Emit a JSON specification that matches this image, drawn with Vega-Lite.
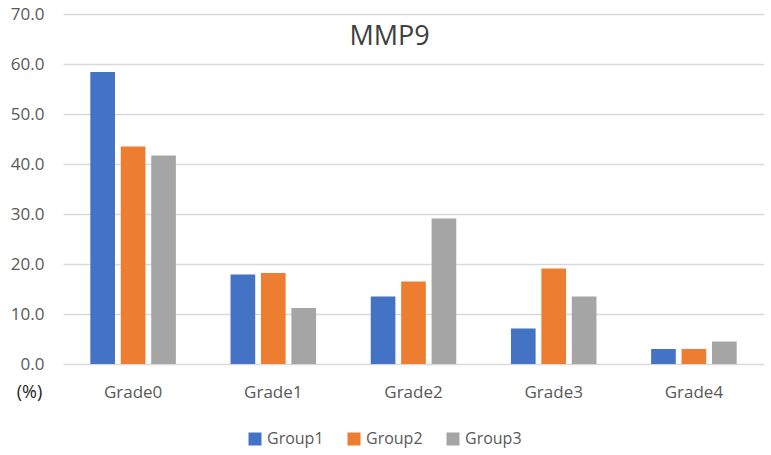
{
  "$schema": "https://vega.github.io/schema/vega-lite/v6.json",
  "width": 701,
  "height": 350,
  "autosize": {"type": "none"},
  "padding": {"left": 63, "top": 14, "right": 7, "bottom": 91},
  "background": "white",
  "title": {
    "text": "MMP9",
    "orient": "top",
    "anchor": "middle",
    "frame": "group",
    "offset": 0,
    "baseline": "middle",
    "dy": 59,
    "dx": -24,
    "fontSize": 27,
    "font": "Open Sans",
    "fontWeight": "normal",
    "color": "#404040"
  },
  "data": {
    "values": [
      {"grade": "Grade0", "group": "Group1", "value": 58.4},
      {"grade": "Grade0", "group": "Group2", "value": 43.5},
      {"grade": "Grade0", "group": "Group3", "value": 41.7},
      {"grade": "Grade1", "group": "Group1", "value": 17.9},
      {"grade": "Grade1", "group": "Group2", "value": 18.2},
      {"grade": "Grade1", "group": "Group3", "value": 11.2},
      {"grade": "Grade2", "group": "Group1", "value": 13.5},
      {"grade": "Grade2", "group": "Group2", "value": 16.5},
      {"grade": "Grade2", "group": "Group3", "value": 29.1},
      {"grade": "Grade3", "group": "Group1", "value": 7.1},
      {"grade": "Grade3", "group": "Group2", "value": 19.1},
      {"grade": "Grade3", "group": "Group3", "value": 13.5},
      {"grade": "Grade4", "group": "Group1", "value": 3.0},
      {"grade": "Grade4", "group": "Group2", "value": 3.0},
      {"grade": "Grade4", "group": "Group3", "value": 4.5}
    ]
  },
  "mark": {"type": "bar"},
  "encoding": {
    "x": {
      "field": "grade",
      "type": "nominal",
      "scale": {"paddingInner": 0.39, "paddingOuter": 0.195},
      "axis": {
        "title": null,
        "labelAngle": 0,
        "domain": false,
        "ticks": false,
        "labelPadding": 20,
        "labelFontSize": 17,
        "labelFont": "Open Sans",
        "labelColor": "#595959"
      }
    },
    "xOffset": {
      "field": "group",
      "type": "nominal",
      "scale": {"paddingInner": 0.19, "paddingOuter": 0}
    },
    "y": {
      "field": "value",
      "type": "quantitative",
      "scale": {"domain": [0, 70], "nice": false},
      "axis": {
        "values": [0, 10, 20, 30, 40, 50, 60, 70],
        "format": ".1f",
        "title": "(%)",
        "titleAngle": 0,
        "titleX": -34,
        "titleY": 378,
        "titleAlign": "center",
        "titleBaseline": "middle",
        "titleFontSize": 18,
        "titleFont": "Open Sans",
        "titleFontWeight": "normal",
        "titleColor": "#222222",
        "domain": false,
        "ticks": false,
        "labelPadding": 19,
        "labelFontSize": 17,
        "labelFont": "Open Sans",
        "labelColor": "#595959",
        "gridColor": "#D9D9D9",
        "gridWidth": 1.5
      }
    },
    "color": {
      "field": "group",
      "type": "nominal",
      "scale": {"range": ["#4472C4", "#ED7D31", "#A5A5A5"]},
      "legend": {
        "title": null,
        "orient": "none",
        "direction": "horizontal",
        "legendX": 184,
        "legendY": 417,
        "symbolType": "square",
        "symbolSize": 169,
        "symbolStrokeWidth": 0,
        "labelFontSize": 16,
        "labelFont": "Open Sans",
        "labelColor": "#595959",
        "labelOffset": 4,
        "columnPadding": 22,
        "padding": 0
      }
    }
  },
  "config": {"view": {"stroke": null}}
}
